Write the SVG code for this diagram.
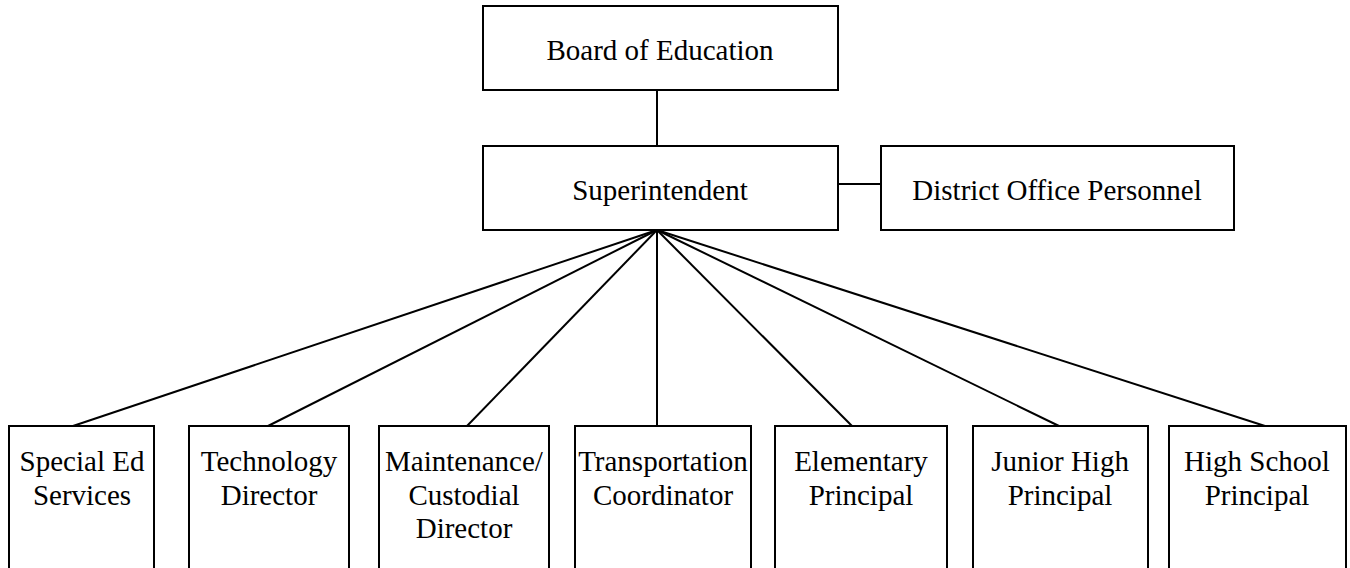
<svg xmlns="http://www.w3.org/2000/svg" width="1350" height="568" viewBox="0 0 1350 568">
<style>
.box{fill:#fff;stroke:#000;stroke-width:2}
.ln{stroke:#000;stroke-width:2;fill:none}
text{font-family:"Liberation Serif","Times New Roman",serif;font-size:29px;fill:#000;text-anchor:middle}
</style>
<rect width="1350" height="568" fill="#fff"/>
<g id="connectors">
<line class="ln" x1="657" y1="90" x2="657" y2="146"/>
<line class="ln" x1="838" y1="184" x2="881" y2="184"/>
<line class="ln" x1="657" y1="230" x2="73" y2="426"/>
<line class="ln" x1="657" y1="230" x2="268" y2="426"/>
<line class="ln" x1="657" y1="230" x2="467" y2="426"/>
<line class="ln" x1="657" y1="230" x2="657" y2="426"/>
<line class="ln" x1="657" y1="230" x2="852" y2="426"/>
<line class="ln" x1="657" y1="230" x2="1059" y2="426"/>
<line class="ln" x1="657" y1="230" x2="1265" y2="426"/>
</g>
<g id="board"><rect class="box" x="483" y="6" width="355" height="84"/><text x="660" y="60">Board of Education</text></g>
<g id="superintendent"><rect class="box" x="483" y="146" width="355" height="84"/><text x="660" y="200">Superintendent</text></g>
<g id="district"><rect class="box" x="881" y="146" width="353" height="84"/><text x="1057" y="200">District Office Personnel</text></g>
<g id="speced"><rect class="box" x="9" y="426" width="145" height="180"/><text x="82" y="471">Special Ed</text><text x="82" y="505">Services</text></g>
<g id="tech"><rect class="box" x="189" y="426" width="160" height="180"/><text x="269" y="471">Technology</text><text x="269" y="505">Director</text></g>
<g id="maint"><rect class="box" x="379" y="426" width="170" height="180"/><text x="464" y="471">Maintenance/</text><text x="464" y="505">Custodial</text><text x="464" y="538">Director</text></g>
<g id="transport"><rect class="box" x="575" y="426" width="176" height="180"/><text x="663" y="471">Transportation</text><text x="663" y="505">Coordinator</text></g>
<g id="elem"><rect class="box" x="775" y="426" width="172" height="180"/><text x="861" y="471">Elementary</text><text x="861" y="505">Principal</text></g>
<g id="jrhigh"><rect class="box" x="973" y="426" width="175" height="180"/><text x="1060" y="471">Junior High</text><text x="1060" y="505">Principal</text></g>
<g id="highschool"><rect class="box" x="1169" y="426" width="177" height="180"/><text x="1257" y="471">High School</text><text x="1257" y="505">Principal</text></g>
</svg>
